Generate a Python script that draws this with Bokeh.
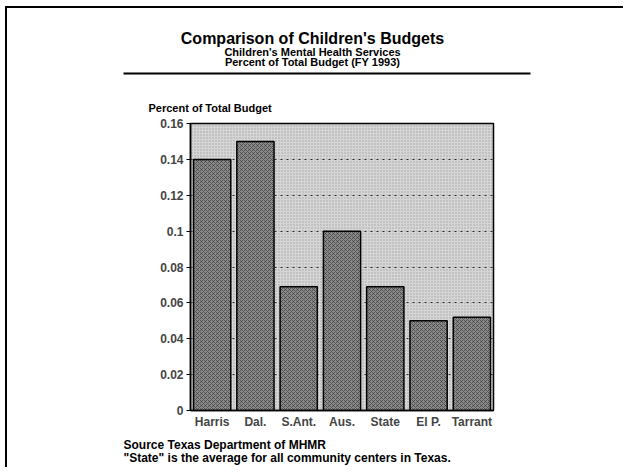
from bokeh.plotting import figure
from bokeh.models import FixedTicker, BoxAnnotation
from bokeh.layouts import column, row
from bokeh.core.properties import value
from bokeh.embed import file_html
from bokeh.resources import INLINE

categories = ["Harris", "Dal.", "S.Ant.", "Aus.", "State", "El P.", "Tarrant"]
values = [0.14, 0.15, 0.069, 0.10, 0.069, 0.050, 0.052]
y_ticks = [0, 0.02, 0.04, 0.06, 0.08, 0.10, 0.12, 0.14, 0.16]
y_tick_labels = ["0", "0.02", "0.04", "0.06", "0.08", "0.1", "0.12", "0.14", "0.16"]
title = "Comparison of Children's Budgets"
subtitle1 = "Children's Mental Health Services"
subtitle2 = "Percent of Total Budget (FY 1993)"
y_label = "Percent of Total Budget"
source1 = "Source  Texas Department of MHMR"
source2 = "\"State\" is the average for all community centers in Texas."

FONT = "Liberation Sans"
OX, OY = 7, 8            # where the framed content starts on the page
W = 616
TOP_H = 107
MID_H = 322
BOT_H = 30


def pixel_fig(w, h):
    f = figure(width=w, height=h, x_range=(0, w), y_range=(h, 0),
               output_backend="svg", toolbar_location=None,
               min_border=0, min_border_left=0, min_border_right=0,
               min_border_top=0, min_border_bottom=0)
    f.axis.visible = False
    f.grid.visible = False
    f.outline_line_color = None
    f.background_fill_color = "white"
    f.border_fill_color = "white"
    return f


def txt(f, x, y, s, size, align="left", y0=0):
    f.text(x=[x - OX], y=[y - OY - y0], text=[s], text_font=value(FONT),
           text_font_size=size, text_font_style="bold",
           text_align=align, text_baseline="middle", text_color="black")


# ---- top panel: titles, rule, y-axis caption
top = pixel_fig(W, TOP_H)
top.quad(left=[123 - OX], right=[530 - OX], top=[72 - OY], bottom=[74 - OY],
         fill_color="black", line_color=None)
txt(top, 312, 38, title, "16px", "center")
txt(top, 312, 51, subtitle1, "11px", "center")
txt(top, 312, 61, subtitle2, "11px", "center")
txt(top, 148, 107, y_label, "11px")

# ---- chart
p = figure(x_range=categories, y_range=(0, 0.16), width=W, height=MID_H,
           output_backend="svg", toolbar_location=None,
           min_border_left=190 - OX, min_border_right=W - (493 - OX),
           min_border_top=8, min_border_bottom=27)
p.background_fill_color = "#d6d6d6"
p.border_fill_color = "white"
p.outline_line_color = "black"
p.outline_line_width = 1.5

p.add_layout(BoxAnnotation(level="underlay", fill_alpha=0, line_color=None,
                           hatch_pattern="dot", hatch_color="#6a6a6a",
                           hatch_scale=3, hatch_alpha=0.5))

p.vbar(x=categories, top=values, width=0.86, fill_color="#8a8a8a",
       line_color="black", line_width=1.5,
       hatch_pattern="diagonal_cross", hatch_color="#2e2e2e",
       hatch_scale=4, hatch_weight=1, hatch_alpha=0.6)

p.xgrid.grid_line_color = None
p.ygrid.grid_line_color = "#1e1e1e"
p.ygrid.grid_line_dash = "2 4"
p.ygrid.grid_line_width = 1

p.yaxis.ticker = FixedTicker(ticks=y_ticks)
p.yaxis.major_label_overrides = {t: l for t, l in zip(y_ticks, y_tick_labels)}
p.yaxis.minor_tick_line_color = None
p.yaxis.major_tick_out = 4
p.yaxis.major_tick_in = 0
p.yaxis.axis_line_color = "black"
p.yaxis.axis_line_width = 1.5
p.yaxis.major_label_text_font = FONT
p.yaxis.major_label_text_font_style = "bold"
p.yaxis.major_label_text_font_size = "12px"
p.yaxis.major_label_standoff = 3

p.xaxis.major_tick_line_color = None
p.xaxis.minor_tick_line_color = None
p.xaxis.major_tick_out = 0
p.xaxis.major_tick_in = 0
p.xaxis.axis_line_color = "black"
p.xaxis.axis_line_width = 1.5
p.xaxis.major_label_text_font = FONT
p.xaxis.major_label_text_font_style = "bold"
p.xaxis.major_label_text_font_size = "12px"
p.xaxis.major_label_standoff = 4

# ---- bottom panel: source notes
bot = pixel_fig(W, BOT_H)
y_bot = TOP_H + MID_H
txt(bot, 123, 444, source1, "12px", y0=y_bot)
txt(bot, 123, 457, source2, "12px", y0=y_bot)

layout = column(top, row(p), bot, styles={
    "margin-left": "5px", "margin-top": "6px",
    "border-left": "2px solid black", "border-top": "2px solid black",
})
open("out.html", "w").write(file_html(layout, INLINE))
